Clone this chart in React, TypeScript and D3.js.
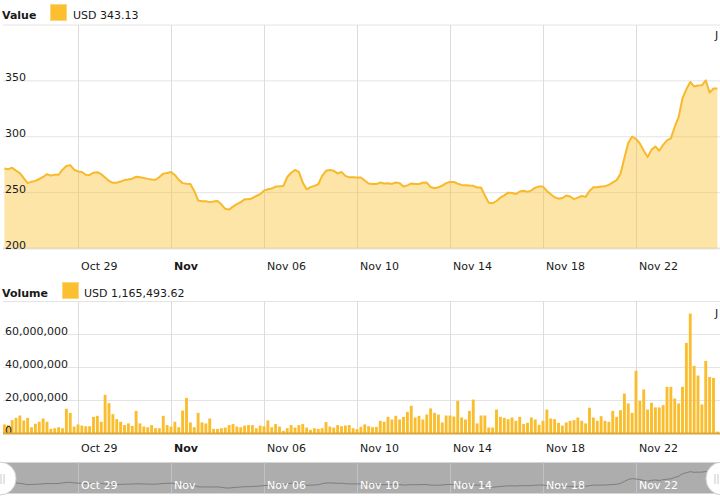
import React, { useEffect, useRef } from 'react';
import * as d3 from 'd3';

// 4-hour periods starting Oct 25 20:00
const startTime = Date.UTC(2017, 9, 25, 20);
const stepHours = 4;

const prices = [
  271.5, 271, 272.2, 269.7, 267.5, 263, 258.5, 259.8, 260.5, 262.2,
  264, 266.5, 265.2, 266, 266, 270.5, 273.8, 274.6, 270.5, 269,
  268.5, 266, 265.8, 267.8, 268.3, 266.5, 263.5, 260.5, 258.8, 258.8,
  259.9, 261.2, 261.8, 262.5, 264.2, 263.7, 263, 262.3, 261.7, 261.5,
  264, 267, 267.5, 268.5, 265.8, 261.5, 258.5, 258, 257.8, 251.5,
  243, 242.2, 242.3, 241.5, 242, 242.5, 239.5, 235.5, 234.8, 237.5,
  239.8, 241.5, 244, 244, 245, 247, 248.6, 251.8, 253, 253.6,
  255.4, 255.6, 256, 264, 267.8, 270.3, 268.5, 259, 253, 254.9,
  256, 257.5, 265, 269.5, 270.2, 269.5, 267.2, 268.5, 265, 263.7,
  263.7, 263.5, 263.5, 260.8, 258.2, 257.7, 257.7, 259, 258.2, 258.3,
  257.8, 259, 258.5, 255.5, 256.5, 258.2, 257.7, 257.7, 258.8, 259,
  255, 253.9, 254.8, 256.2, 258.5, 259.5, 259.5, 258, 256.9, 256.6,
  256.3, 256.1, 254.6, 254.6, 247.5, 241, 240.5, 242.5, 245.5, 247.5,
  250, 249.6, 248.7, 251, 251.6, 250.7, 252, 254.5, 255.4, 255.4,
  251.5, 248.5, 245.9, 244.6, 245.2, 247.4, 246.5, 244.2, 245.5, 247,
  246.2, 251.5, 254.8, 254.9, 255.4, 255.8, 256.9, 259.2, 261.2, 266.9,
  281, 294.5, 300.2, 298, 294, 287.5, 281.8, 288.5, 291.3, 287.5,
  292.8, 296.8, 298.6, 309, 317.5, 334.5, 342.6, 349, 345, 345.8,
  346, 350.5, 339.5, 343.2, 343.13,
];

// volume in millions of USD
const volumes = [
  5.5, 5.1, 8.1, 9.5, 10.9, 7.9, 9.5, 3.8, 5.9, 7.1,
  9.1, 7.1, 2.8, 3.2, 3.8, 3.2, 15, 12.5, 4.2, 5.5,
  4.8, 4.4, 4.4, 10.1, 10.7, 7.1, 23.4, 18.4, 11.7, 8.7,
  7.1, 5.1, 6.1, 4.6, 13.7, 6.1, 4.2, 3.8, 5.1, 3.2,
  3.2, 10.7, 5.1, 4.2, 7.1, 3.8, 13.9, 21.6, 6.7, 3.8,
  12.5, 6.7, 6.1, 9.1, 2.8, 2.8, 3.2, 3.6, 5.1, 5.7,
  4.2, 3.8, 4.8, 5.1, 5.1, 3.2, 4.8, 4.4, 7.9, 3.8,
  5.7, 4.2, 1.6, 3.2, 5.1, 3.6, 5.1, 5.7, 3.6, 2.2,
  3.2, 2.8, 3.2, 6.9, 4.2, 3.6, 5.1, 4.4, 4.8, 5.1,
  3.2, 2.6, 4, 5.5, 4.4, 3.8, 4, 7.7, 7.1, 10.1,
  8.5, 10.7, 8.5, 10.1, 13.1, 16.8, 9.7, 10.7, 8.5, 11.5,
  15.2, 12.5, 11.5, 6.7, 10.9, 10.9, 10.3, 19.8, 9.7, 8.5,
  13.7, 20.6, 6.1, 10.9, 10.9, 3.6, 3.6, 14.5, 10.1, 9.5,
  8.7, 9.7, 7.7, 10.1, 5.7, 6.5, 9.7, 8.5, 5.3, 7.7,
  14.5, 9.1, 8.7, 6.5, 4.8, 6.7, 7.7, 8.1, 9.7, 7.7,
  6.1, 15.6, 9.7, 7.7, 10.5, 7.7, 7.1, 13.7, 10.1, 14.1,
  24.2, 18.2, 12.5, 38, 19.8, 26.7, 14.5, 18.6, 15.8, 15.8,
  17.2, 28.3, 28.3, 21.2, 18.2, 28.3, 54.9, 72.7, 41, 35.1,
  17.6, 44, 34.3, 33.7, 1.165,
];

const tickDates = ['2017-10-29', '2017-11-02', '2017-11-06', '2017-11-10', '2017-11-14', '2017-11-18', '2017-11-22'];
const tickLabels = ['Oct 29', 'Nov', 'Nov 06', 'Nov 10', 'Nov 14', 'Nov 18', 'Nov 22'];
const boldLabels = ['Nov'];
const priceTicks = [200, 250, 300, 350, 400];
const volumeTicks = [0, 20e6, 40e6, 60e6, 80e6];

const valueLegend = 'USD 343.13';
const volumeLegend = 'USD 1,165,493.62';

const FONT = "'DejaVu Sans', Verdana, sans-serif";
const GOLD = '#f8b92c';

const App = () => {
  const ref = useRef(null);

  useEffect(() => {
    const svg = d3.select(ref.current);
    svg.selectAll('*').remove();

    const data = prices.map((p, i) => ({
      date: new Date(startTime + i * stepHours * 3600 * 1000),
      price: p,
      volume: volumes[i] * 1e6,
    }));

    const x = d3
      .scaleUtc()
      .domain([new Date('2017-10-29T00:00:00Z'), new Date('2017-11-22T00:00:00Z')])
      .range([78, 636]);
    const ticks = tickDates.map((d) => new Date(d + 'T00:00:00Z'));
    const left = 3;
    const right = 720;
    const step = x(new Date(startTime + stepHours * 3600 * 1000)) - x(new Date(startTime));

    svg.append('defs').append('clipPath').attr('id', 'plotclip')
      .append('rect').attr('x', left).attr('y', 0).attr('width', right - left).attr('height', 500);

    // ---------- price panel ----------
    const y = d3.scaleLinear().domain([200, 400]).range([248.5, 25]);

    const grid = svg.append('g').attr('stroke', '#e4e4e4').attr('stroke-width', 1);
    priceTicks.forEach((t) => {
      grid.append('line').attr('x1', left).attr('x2', right)
        .attr('y1', y(t)).attr('y2', y(t))
        .attr('stroke-width', t === 200 ? 2 : 1);
    });
    ticks.forEach((t) => {
      grid.append('line').attr('x1', x(t) + 0.5).attr('x2', x(t) + 0.5)
        .attr('y1', y(400)).attr('y2', y(200)).attr('stroke', '#dcdcdc');
    });

    const plot = svg.append('g').attr('clip-path', 'url(#plotclip)');
    const area = d3.area()
      .x((d) => x(d.date))
      .y0(y(200))
      .y1((d) => y(d.price));
    const line = d3.line()
      .x((d) => x(d.date))
      .y((d) => y(d.price));
    plot.append('path').datum(data).attr('d', area)
      .attr('fill', '#fbbf2e').attr('fill-opacity', 0.42);
    plot.append('path').datum(data).attr('d', line)
      .attr('fill', 'none').attr('stroke', GOLD).attr('stroke-width', 2)
      .attr('stroke-linejoin', 'round');

    const txt = svg.append('g').attr('font-family', FONT).attr('font-size', 11).attr('fill', '#1a1a1a');
    priceTicks.filter((t) => t < 400).forEach((t) => {
      txt.append('text').attr('x', 5).attr('y', y(t) + 0.5).text(t);
    });
    ticks.forEach((t, i) => {
      txt.append('text').attr('x', x(t) + 3).attr('y', 270).text(tickLabels[i])
        .attr('font-weight', boldLabels.includes(tickLabels[i]) ? 'bold' : 'normal');
    });
    txt.append('text').attr('x', 715).attr('y', 39).text('J');

    // legend
    txt.append('text').attr('x', 2).attr('y', 19).attr('font-weight', 'bold').text('Value');
    svg.append('rect').attr('x', 50.5).attr('y', 4.5).attr('width', 16).attr('height', 16)
      .attr('fill', '#fbbf30').attr('stroke', '#fcd77a');
    txt.append('text').attr('x', 73).attr('y', 19).text(valueLegend);

    // ---------- volume panel ----------
    const yv = d3.scaleLinear().domain([0, 80e6]).range([433.5, 301.5]);
    volumeTicks.forEach((t) => {
      if (t === 0) return;
      grid.append('line').attr('x1', left).attr('x2', right)
        .attr('y1', yv(t)).attr('y2', yv(t));
    });
    ticks.forEach((t) => {
      grid.append('line').attr('x1', x(t) + 0.5).attr('x2', x(t) + 0.5)
        .attr('y1', yv(80e6)).attr('y2', yv(0)).attr('stroke', '#dcdcdc');
    });

    plot.append('g')
      .selectAll('rect')
      .data(data)
      .enter()
      .append('rect')
      .attr('x', (d) => x(d.date) - step / 2 + 0.5)
      .attr('y', (d) => yv(d.volume))
      .attr('width', step - 1)
      .attr('height', (d) => yv(0) - yv(d.volume))
      .attr('fill', '#f9bd2d');

    svg.append('line').attr('x1', left).attr('x2', right)
      .attr('y1', yv(0)).attr('y2', yv(0))
      .attr('stroke', '#d9a63b').attr('stroke-width', 2);

    const fmt = d3.format(',');
    volumeTicks.filter((t) => t < 80e6).forEach((t) => {
      txt.append('text').attr('x', 5).attr('y', yv(t) + 0.5).text(fmt(t));
    });
    ticks.forEach((t, i) => {
      txt.append('text').attr('x', x(t) + 3).attr('y', 452).text(tickLabels[i])
        .attr('font-weight', boldLabels.includes(tickLabels[i]) ? 'bold' : 'normal');
    });
    txt.append('text').attr('x', 715).attr('y', 317).text('J');

    txt.append('text').attr('x', 2).attr('y', 297).attr('font-weight', 'bold').text('Volume');
    svg.append('rect').attr('x', 62.5).attr('y', 282.5).attr('width', 16).attr('height', 16)
      .attr('fill', '#fbbf30').attr('stroke', '#fcd77a');
    txt.append('text').attr('x', 84).attr('y', 297).text(volumeLegend);

    // ---------- navigator ----------
    const nav = svg.append('g');
    nav.append('rect').attr('x', 0).attr('y', 462.5).attr('width', 720).attr('height', 31)
      .attr('fill', '#adadad');
    ticks.forEach((t) => {
      nav.append('line').attr('x1', x(t) + 0.5).attr('x2', x(t) + 0.5)
        .attr('y1', 462.5).attr('y2', 493.5).attr('stroke', '#c2c2c2');
    });
    const yn = d3.scaleLinear()
      .domain(d3.extent(prices))
      .range([488, 471.5]);
    nav.append('path').datum(data)
      .attr('d', d3.line().x((d) => x(d.date)).y((d) => yn(d.price)))
      .attr('fill', 'none').attr('stroke', '#7d7d7d').attr('stroke-width', 1);
    ticks.forEach((t, i) => {
      nav.append('text').attr('x', x(t) + 3).attr('y', 489)
        .attr('font-family', FONT).attr('font-size', 11).attr('fill', '#ffffff')
        .text(tickLabels[i]);
    });
    [0, 722].forEach((cx) => {
      nav.append('rect').attr('x', cx - 16).attr('y', 462).attr('width', 32).attr('height', 33)
        .attr('rx', 16).attr('fill', '#ffffff').attr('stroke', '#d0d0d0');
      [-2, 1].forEach((dx) => {
        const gx = cx === 0 ? 2 + dx + 1 : cx - 5 + dx;
        nav.append('line').attr('x1', gx).attr('x2', gx).attr('y1', 474).attr('y2', 484)
          .attr('stroke', '#c8c8c8');
      });
    });

    return () => {
      svg.selectAll('*').remove();
    };
  }, []);

  return (
    <svg
      ref={ref}
      width={720}
      height={500}
      style={{ position: 'absolute', left: 0, top: 0, background: '#fff' }}
    />
  );
};

export default App;
